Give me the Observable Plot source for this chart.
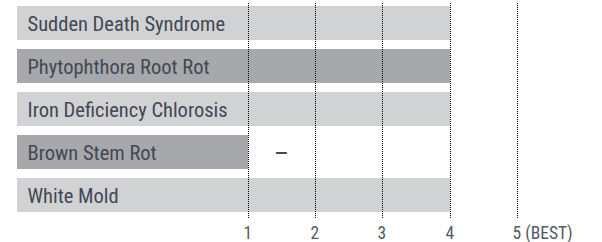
<!DOCTYPE html>
<html>
<head>
<meta charset="utf-8">
<script src="https://cdn.jsdelivr.net/npm/d3@7"></script>
<script src="https://cdn.jsdelivr.net/npm/@observablehq/plot@0.6"></script>
<style>
  html, body { margin: 0; padding: 0; background: #fff; }
</style>
</head>
<body>
<div id="chart"></div>
<script>
const diseases = ["Sudden Death Syndrome", "Phytophthora Root Rot", "Iron Deficiency Chlorosis", "Brown Stem Rot", "White Mold"];
const ratings = [4, 4, 4, null, 4];
const shades = ["light", "dark", "light", "dark", "light"];
const scaleTicks = [1, 2, 3, 4, 5];
const tickLabels = ["1", "2", "3", "4", "5 (BEST)"];
const missingMark = "–";
const labelStart = -2.43; // left edge of the label panel, in rating units
const scaleMin = 1;

const data = diseases.map((d, i) => ({disease: d, rating: ratings[i], shade: shades[i]}));

const font = "'Liberation Sans Narrow', 'Roboto Condensed', 'Arial Narrow', Roboto, sans-serif";
const textColor = "#434854";

const chart = Plot.plot({
  width: 602,
  height: 242,
  marginLeft: 17,
  marginRight: 85,
  marginTop: 4,
  marginBottom: 27,
  style: {fontFamily: font, background: "#fff"},
  x: {domain: [labelStart, 5], axis: null, round: true},
  y: {domain: diseases, axis: null, paddingInner: 0.2, paddingOuter: 0},
  color: {domain: ["light", "dark"], range: ["#d1d2d4", "#a7a8ab"]},
  marks: [
    Plot.barX(data, {y: "disease", x1: labelStart, x2: d => d.rating ?? scaleMin, fill: "shade"}),
    Plot.text(data, {y: "disease", x: labelStart, text: "disease", textAnchor: "start", dx: 10, dy: 1, fontSize: 20.5, fill: textColor}),
    Plot.text(data.filter(d => d.rating == null), {y: "disease", x: 1.5, text: () => missingMark, fontSize: 26, dy: 1, fill: textColor}),
    Plot.ruleX(scaleTicks, {x: d => d, stroke: "#000", strokeDasharray: "1,1", insetTop: -1, insetBottom: -3}),
    Plot.text(scaleTicks, {x: d => d, text: (d, i) => tickLabels[i], frameAnchor: "bottom", lineAnchor: "bottom", dy: 23, dx: -5, textAnchor: "start", fontSize: 17.5, fill: "#555a63"})
  ]
});
document.getElementById("chart").appendChild(chart);
</script>
</body>
</html>
